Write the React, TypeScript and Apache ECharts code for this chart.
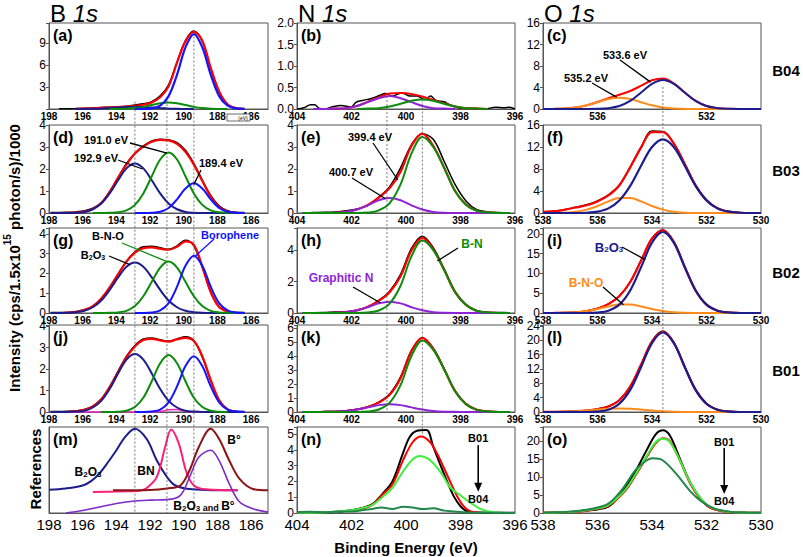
import React, { useEffect, useRef } from 'react';
import * as echarts from 'echarts';

const FONT = "'Liberation Sans', Arial, Helvetica, sans-serif";

// ---------- energy grids (eV) ----------
const XB = [197.9, 197.4, 196.9, 196.4, 195.9, 195.4, 194.9, 194.4, 193.9, 193.4, 192.9, 192.4, 191.9, 191.4, 190.9, 190.4, 189.9, 189.4, 188.9, 188.4, 187.9, 187.4, 186.9, 186.4];
const XN = [403.8, 403.4, 403.0, 402.6, 402.2, 401.8, 401.4, 401.0, 400.6, 400.2, 399.8, 399.4, 399.0, 398.6, 398.2, 397.8, 397.4, 397.0, 396.6, 396.2];
const XO = [538.0, 537.6, 537.2, 536.8, 536.4, 536.0, 535.6, 535.2, 534.8, 534.4, 534.0, 533.6, 533.2, 532.8, 532.4, 532.0, 531.6, 531.2, 530.8, 530.4, 530.0];

type V = number | null;
const _ = null;

// ---------- B 1s ----------
const aBlack: V[] = [_, 0.02, 0.03, 0.06, 0.1, 0.14, 0.2, 0.25, 0.3, 0.38, 0.55, 0.7, 1.0, 1.8, 3.3, 6.4, 9.3, 10.6, 9.2, 5.5, 2.3, 0.6, 0.1, 0.02];
const aRed: V[] = [_, _, _, 0.03, 0.06, 0.1, 0.15, 0.2, 0.26, 0.32, 0.42, 0.58, 0.9, 1.6, 3.1, 6.3, 9.2, 10.5, 9.3, 5.6, 2.4, 0.65, 0.12, 0.02];
const aNavy: V[] = [_, _, _, 0, 0.01, 0.02, 0.06, 0.12, 0.2, 0.27, 0.3, 0.27, 0.2, 0.12, 0.06, 0.02, 0.01, 0, _, _, _, _, _, _];
const aGreen: V[] = [_, _, _, _, _, _, _, 0, 0.01, 0.04, 0.12, 0.29, 0.55, 0.79, 0.9, 0.79, 0.55, 0.29, 0.12, 0.04, 0.01, 0, _, _];
const aBlue: V[] = [_, _, _, _, _, _, _, _, _, _, 0, 0.01, 0.08, 0.45, 1.75, 4.67, 8.39, 10.2, 8.39, 4.67, 1.75, 0.45, 0.08, 0.01];

const dBlack: V[] = [0.02, 0.02, 0.03, 0.05, 0.1, 0.22, 0.47, 0.98, 1.62, 2.25, 2.72, 3.05, 3.28, 3.35, 3.32, 3.2, 2.85, 2.25, 1.5, 0.8, 0.33, 0.1, 0.03, 0.02];
const dRed: V[] = [_, 0, 0.01, 0.02, 0.06, 0.18, 0.45, 0.95, 1.6, 2.2, 2.7, 3.02, 3.24, 3.32, 3.3, 3.14, 2.78, 2.2, 1.45, 0.75, 0.27, 0.07, 0.01, _];
const dNavy: V[] = [0, 0, 0, 0.01, 0.05, 0.17, 0.43, 0.89, 1.49, 2.03, 2.25, 2.03, 1.49, 0.89, 0.43, 0.17, 0.05, 0.01, 0, 0, 0, 0, 0, 0];
const dGreen: V[] = [_, _, _, _, _, 0, 0, 0.01, 0.03, 0.12, 0.37, 0.89, 1.67, 2.43, 2.75, 2.43, 1.67, 0.89, 0.37, 0.12, 0.03, 0.01, 0, _];
const dBlue: V[] = [_, _, _, _, _, _, _, _, _, _, 0, 0, 0.01, 0.06, 0.23, 0.62, 1.11, 1.35, 1.11, 0.62, 0.23, 0.06, 0.01, 0];

const gBlack: V[] = [0.03, 0.02, 0.03, 0.07, 0.17, 0.33, 0.75, 1.28, 1.98, 2.62, 3.1, 3.35, 3.38, 3.3, 3.22, 3.4, 3.68, 3.4, 2.3, 1.1, 0.32, 0.09, 0.03, 0.02];
const gRed: V[] = [_, 0, 0.02, 0.06, 0.15, 0.35, 0.72, 1.3, 1.95, 2.6, 3.05, 3.28, 3.32, 3.25, 3.2, 3.35, 3.62, 3.45, 2.35, 1.05, 0.3, 0.07, 0.01, _];
const gNavy: V[] = [0, 0, 0.01, 0.04, 0.11, 0.29, 0.63, 1.17, 1.8, 2.34, 2.55, 2.34, 1.8, 1.17, 0.63, 0.29, 0.11, 0.04, 0.01, 0, 0, 0, 0, 0];
const gGreen: V[] = [_, _, _, _, _, 0, 0, 0.01, 0.03, 0.11, 0.35, 0.85, 1.58, 2.3, 2.6, 2.3, 1.58, 0.85, 0.35, 0.11, 0.03, 0.01, 0, _];
const gBlue: V[] = [_, _, _, _, _, _, _, _, _, _, 0, 0, 0.02, 0.13, 0.5, 1.33, 2.39, 2.9, 2.39, 1.33, 0.5, 0.13, 0.02, 0];

const jBlack: V[] = [0.02, 0.02, 0.03, 0.05, 0.12, 0.27, 0.6, 1.18, 1.9, 2.6, 3.1, 3.4, 3.45, 3.36, 3.3, 3.4, 3.5, 3.32, 2.55, 1.45, 0.55, 0.13, 0.03, 0.02];
const jRed: V[] = [_, _, 0.01, 0.04, 0.1, 0.25, 0.58, 1.15, 1.85, 2.55, 3.05, 3.35, 3.4, 3.33, 3.28, 3.38, 3.45, 3.3, 2.6, 1.5, 0.55, 0.12, 0.02, _];
const jPink: V[] = [0, 0, 0, 0, 0, 0, 0, 0, 0, 0, 0, 0, 0, 0.02, 0.1, 0.12, 0.03, 0, 0, 0, 0, 0, 0, 0];
const jNavy: V[] = [0, 0, 0, 0.02, 0.06, 0.21, 0.52, 1.07, 1.79, 2.44, 2.7, 2.44, 1.79, 1.07, 0.52, 0.21, 0.06, 0.02, 0, 0, 0, 0, 0, 0];
const jGreen: V[] = [_, _, _, _, _, _, 0, 0, 0.01, 0.06, 0.23, 0.66, 1.43, 2.27, 2.65, 2.27, 1.43, 0.66, 0.23, 0.06, 0.01, 0, _, _];
const jBlue: V[] = [_, _, _, _, _, _, _, _, _, _, 0, 0, 0.02, 0.11, 0.45, 1.19, 2.14, 2.6, 2.14, 1.19, 0.45, 0.11, 0.02, 0];

// references (m), y in arbitrary units 0..10
const mNavy = [[198, 2.7], [197, 2.85], [196, 3.2], [195.5, 3.7], [195, 4.6], [194.5, 5.9], [194, 7.3], [193.5, 8.8], [192.9, 9.8], [192.2, 8.6], [191.6, 6.1], [191.0, 4.2], [190.5, 3.2], [189.5, 2.75], [188, 2.65], [186.8, 2.64]];
const mPink = [[195.4, 2.44], [194, 2.5], [192.6, 2.6], [192.2, 2.9], [191.6, 4.2], [191.1, 7.7], [190.75, 9.7], [190.3, 8.1], [189.85, 4.8], [189.4, 3.2], [188.7, 2.75], [186.8, 2.64]];
const mDarkRed = [[194.2, 2.64], [192, 2.68], [191, 2.85], [190.2, 3.2], [189.65, 5.0], [189.1, 7.7], [188.4, 9.8], [187.9, 8.6], [187.3, 6.1], [186.7, 4.0], [185.9, 2.8], [185, 2.64]];
const mPurple = [[197, 0], [196, 0.3], [195, 0.7], [194, 1.1], [192.9, 1.4], [192, 1.5], [191, 1.55], [190.2, 2.05], [189.65, 4.2], [189.1, 6.5], [188.4, 7.3], [187.9, 6.1], [187.3, 3.4], [186.7, 1.3], [185.9, 0.5], [185, 0.1]];

// ---------- N 1s ----------
const bBlack = [[404, 0], [403.75, 0.03], [403.5, 0.1], [403.35, 0.1], [403.2, 0.02], [403.0, 0.0], [402.7, 0.05], [402.4, 0.08], [402.0, 0.05], [401.85, 0.15], [401.6, 0.2], [401.3, 0.24], [400.95, 0.32], [400.76, 0.36], [400.5, 0.3], [400.15, 0.38], [399.85, 0.3], [399.6, 0.3], [399.3, 0.22], [399.1, 0.3], [398.9, 0.2], [398.6, 0.17], [398.4, 0.1], [398.0, 0.02], [397.65, 0.02], [397.16, 0.0], [396.7, 0.04], [396.4, 0.03], [396.2, 0.04], [396.0, 0.0]];
const bRed: V[] = [_, 0, 0, 0.01, 0.02, 0.07, 0.17, 0.27, 0.36, 0.37, 0.35, 0.29, 0.21, 0.13, 0.06, 0.02, 0.01, 0, _, _];
const bPurple: V[] = [_, 0, 0, 0.01, 0.02, 0.07, 0.16, 0.25, 0.3, 0.25, 0.16, 0.07, 0.02, 0.01, 0, _, _, _, _, _];
const bGreen: V[] = [_, _, _, _, _, 0, 0.01, 0.02, 0.06, 0.12, 0.19, 0.22, 0.19, 0.12, 0.06, 0.02, 0.01, 0, _, _];

const eBlack: V[] = [0.01, 0.02, 0.03, 0.05, 0.1, 0.18, 0.35, 0.72, 1.2, 2.05, 3.1, 3.6, 3.35, 2.35, 1.3, 0.55, 0.15, 0.05, 0.02, 0.01];
const eRed: V[] = [_, _, 0, 0.01, 0.05, 0.16, 0.37, 0.7, 1.13, 1.88, 3.05, 3.61, 3.05, 2.06, 1.0, 0.38, 0.1, 0.02, 0, _];
const ePurple: V[] = [0, 0, 0, 0.01, 0.05, 0.16, 0.35, 0.58, 0.68, 0.58, 0.35, 0.16, 0.05, 0.01, 0, 0, 0, 0, 0, 0];
const eGreen: V[] = [0, 0, 0, 0, 0, 0, 0.02, 0.12, 0.45, 1.3, 2.7, 3.45, 3.0, 2.05, 1.0, 0.38, 0.1, 0.02, 0, 0];

const hBlack: V[] = [0.02, 0.02, 0.03, 0.06, 0.08, 0.18, 0.38, 0.8, 1.38, 2.45, 4.1, 4.88, 4.15, 2.8, 1.38, 0.55, 0.15, 0.05, 0.03, 0.02];
const hRed: V[] = [_, _, 0, 0.01, 0.05, 0.17, 0.4, 0.77, 1.32, 2.34, 3.97, 4.77, 4.05, 2.74, 1.33, 0.51, 0.13, 0.03, 0, _];
const hPurple: V[] = [0, 0, 0, 0.01, 0.05, 0.17, 0.37, 0.61, 0.72, 0.61, 0.37, 0.17, 0.05, 0.01, 0, 0, 0, 0, 0, 0];
const hGreen: V[] = [0, 0, 0, 0, 0, 0, 0.03, 0.16, 0.6, 1.73, 3.6, 4.6, 4.0, 2.73, 1.33, 0.51, 0.13, 0.03, 0, 0];

const kBlack: V[] = [0.02, 0.02, 0.03, 0.04, 0.09, 0.2, 0.38, 0.7, 1.28, 2.5, 4.4, 5.3, 4.55, 3.1, 1.52, 0.6, 0.17, 0.05, 0.02, 0.02];
const kRed: V[] = [_, _, 0.01, 0.02, 0.07, 0.18, 0.36, 0.67, 1.22, 2.41, 4.32, 5.28, 4.5, 3.05, 1.49, 0.56, 0.15, 0.03, 0, _];
const kPurple: V[] = [0, 0, 0.01, 0.02, 0.07, 0.18, 0.33, 0.49, 0.55, 0.49, 0.33, 0.18, 0.07, 0.02, 0.01, 0, 0, 0, 0, 0];
const kGreen: V[] = [0, 0, 0, 0, 0, 0, 0.03, 0.18, 0.67, 1.92, 3.99, 5.1, 4.43, 3.03, 1.48, 0.56, 0.15, 0.03, 0, 0];

const nBlack = [[404, 0.03], [403.5, 0.05], [403, 0.03], [402.5, 0.08], [401.9, 0.2], [401.25, 0.54], [400.87, 1.2], [400.5, 2.0], [400.12, 3.75], [399.87, 4.8], [399.62, 5.2], [399.25, 5.26], [399.0, 4.2], [398.75, 3.1], [398.5, 2.04], [398.25, 1.07], [398.0, 0.43], [397.75, 0.1], [397.3, 0.03], [396.5, 0.02], [396, 0.01]];
const nRed = [[401.8, 0.22], [401.25, 0.5], [400.9, 1.1], [400.5, 1.8], [400.12, 3.3], [399.75, 4.5], [399.44, 4.85], [399.12, 4.5], [398.87, 3.8], [398.62, 2.9], [398.37, 1.95], [398.12, 1.05], [397.87, 0.4], [397.62, 0.1], [397.3, 0.02]];
const nLight = [[404, 0.02], [403, 0.03], [402.5, 0.1], [401.9, 0.2], [401.25, 0.5], [400.87, 1.0], [400.5, 1.6], [400.12, 2.6], [399.75, 3.4], [399.5, 3.62], [399.19, 3.45], [398.87, 2.9], [398.62, 2.3], [398.37, 1.6], [398.06, 1.2], [397.6, 0.6], [397.25, 0.25], [396.8, 0.05], [396.5, 0.02]];
const nDark = [[404, 0.05], [403.5, 0.08], [403, 0.04], [402.5, 0.1], [402, 0.1], [401.5, 0.2], [401.25, 0.25], [400.9, 0.35], [400.5, 0.25], [400.1, 0.4], [399.75, 0.35], [399.4, 0.25], [399, 0.3], [398.6, 0.15], [398.25, 0.1], [397.9, 0.05], [397.5, 0.02], [396.5, 0.01], [396, 0]];

// ---------- O 1s ----------
const cRed: V[] = [0, 0.02, 0.09, 0.28, 0.68, 1.3, 2.01, 2.66, 3.35, 4.33, 5.36, 5.68, 4.77, 3.08, 1.5, 0.56, 0.16, 0.03, 0, 0, 0];
const cOrange: V[] = [0, 0.02, 0.09, 0.28, 0.68, 1.27, 1.85, 2.1, 1.85, 1.27, 0.68, 0.28, 0.09, 0.02, 0, 0, 0, 0, 0, 0, 0];
const cNavy: V[] = [0, 0, 0, 0, 0, 0.03, 0.16, 0.56, 1.5, 3.06, 4.68, 5.4, 4.68, 3.06, 1.5, 0.56, 0.16, 0.03, 0, 0, 0];

const fBlack: V[] = [0.2, 0.35, 0.6, 1.05, 1.5, 2.2, 3.3, 5.1, 8.4, 12.0, 14.9, 14.8, 12.7, 9.0, 5.1, 2.4, 0.9, 0.3, 0.1, 0.05, 0.05];
const fRed: V[] = [0.2, 0.3, 0.6, 1.0, 1.4, 2.1, 3.2, 5.0, 8.3, 11.9, 14.7, 14.7, 12.6, 8.9, 5.0, 2.3, 0.85, 0.25, 0.05, 0, 0];
const fOrange: V[] = [0, 0.01, 0.06, 0.22, 0.61, 1.28, 2.11, 2.71, 2.71, 2.11, 1.28, 0.61, 0.22, 0.06, 0.01, 0, 0, 0, 0, 0, 0];
const fNavy: V[] = [0, 0, 0, 0, 0.05, 0.25, 0.84, 2.28, 4.94, 8.6, 11.99, 13.4, 11.99, 8.6, 4.94, 2.28, 0.84, 0.25, 0.05, 0, 0];

const iBlack: V[] = [0.05, 0.08, 0.1, 0.2, 0.5, 1.15, 2.3, 4.3, 7.9, 13.3, 18.9, 21.0, 18.1, 11.8, 5.8, 2.2, 0.65, 0.18, 0.06, 0.04, 0.04];
const iRed: V[] = [_, 0.01, 0.05, 0.17, 0.48, 1.13, 2.25, 4.24, 7.83, 13.26, 18.78, 20.9, 17.94, 11.65, 5.71, 2.11, 0.59, 0.12, 0.02, _, _];
const iOrange: V[] = [0, 0.01, 0.05, 0.17, 0.48, 1.01, 1.66, 2.13, 2.13, 1.66, 1.01, 0.48, 0.17, 0.05, 0.01, 0, 0, 0, 0, 0, 0];
const iNavy: V[] = [0, 0, 0, 0, 0, 0.12, 0.59, 2.11, 5.7, 11.6, 17.77, 20.5, 17.77, 11.6, 5.7, 2.11, 0.59, 0.12, 0, 0, 0];

const lBlack: V[] = [0.05, 0.06, 0.1, 0.22, 0.43, 0.85, 1.6, 3.35, 7.15, 13.3, 19.8, 22.6, 19.5, 12.7, 6.25, 2.35, 0.7, 0.18, 0.06, 0.04, 0.04];
const lRed: V[] = [0.01, 0.03, 0.09, 0.21, 0.41, 0.8, 1.55, 3.29, 7.08, 13.24, 19.66, 22.41, 19.34, 12.6, 6.18, 2.29, 0.64, 0.13, 0, _, _];
const lOrange: V[] = [0.01, 0.03, 0.09, 0.21, 0.41, 0.67, 0.91, 1.0, 0.91, 0.67, 0.41, 0.21, 0.09, 0.03, 0.01, 0, 0, 0, 0, 0, 0];
const lNavy: V[] = [0, 0, 0, 0, 0, 0.13, 0.64, 2.29, 6.17, 12.57, 19.25, 22.2, 19.25, 12.57, 6.17, 2.29, 0.64, 0.13, 0, 0, 0];

const oBlack = [[538, 0.1], [537.5, 0.15], [537, 0.3], [536.5, 0.6], [536, 1.0], [535.6, 1.8], [535.3, 3.8], [535.0, 6.8], [534.6, 11.7], [534.2, 17.4], [533.85, 22], [533.6, 23], [533.35, 21.6], [532.97, 15], [532.6, 8.5], [532.2, 3.8], [531.85, 1.4], [531.35, 0.5], [531, 0.2], [530.5, 0.1], [530, 0.05]];
const oRed = [[538, 0.05], [537, 0.25], [536.5, 0.5], [536.2, 0.9], [535.6, 2.0], [535.0, 6.0], [534.6, 10.5], [534.2, 15.5], [533.85, 19.5], [533.6, 20.8], [533.35, 20.0], [532.97, 14.5], [532.6, 8.2], [532.2, 3.7], [531.85, 1.4], [531.35, 0.4], [530.8, 0.1], [530, 0.05]];
const oLight = [[538, 0.1], [537, 0.3], [536.2, 1.0], [535.6, 2.2], [535.0, 6.3], [534.6, 10.8], [534.2, 15.8], [533.85, 19.8], [533.6, 20.6], [533.35, 19.8], [532.97, 14.6], [532.6, 8.5], [532.2, 4.0], [531.85, 1.6], [531.35, 0.5], [530.8, 0.15], [530, 0.05]];
const oDark = [[538, 0.1], [537.5, 0.2], [536.85, 0.5], [536.2, 1.2], [535.6, 2.6], [535.1, 6.5], [534.6, 12.0], [534.2, 14.6], [533.97, 15.2], [533.6, 14.6], [533.1, 10.8], [532.6, 6.1], [532.2, 3.3], [531.7, 1.2], [531.1, 0.3], [530.5, 0.1], [530, 0.05]];

// ---------- axes ----------
const Y_MAX = [11.7, 2, 16, 4, 4, 16, 4.3, 5.4, 21.5, 4.05, 6.2, 24.3, 10, 5.45, 23.9];
const Y_STEP = [3, 0.5, 4, 1, 1, 4, 1, 2, 5, 1, 1, 4, 5, 1, 5];
const PANEL_TAGS = ['(a)', '(b)', '(c)', '(d)', '(e)', '(f)', '(g)', '(h)', '(i)', '(j)', '(k)', '(l)', '(m)', '(n)', '(o)'];
const ROW_NAMES = ['B04', 'B03', 'B02', 'B01'];
const COL_TITLES = ['B', 'N', 'O'];

// layout (px)
const COL_LEFT = [49, 297, 543];
const COL_W = [219, 218, 218];
const ROW_TOP = [23, 125, 228, 325, 427];
const ROW_H = [86, 88, 85, 87, 86];

const C = {
  black: '#000000', red: '#ff0000', blue: '#1414ff', navy: '#1c1c8c', green: '#0b8c0b',
  purple: '#8e24d6', orange: '#ff8c1a', pink: '#ff1f75', darkred: '#8b1414', refPurple: '#7d2cc8',
  light: '#3cf03c', dark: '#23864a', magenta: '#ff22cc',
};

const zip = (xs: number[], ys: V[]) => xs.map((x, i) => [x, ys[i]]).filter((p) => p[1] !== null);

function line(idx: number, data: any[], color: string, width = 2) {
  return {
    type: 'line', xAxisIndex: idx, yAxisIndex: idx, data, smooth: 0.35,
    showSymbol: false, symbol: 'none', silent: true,
    lineStyle: { color, width }, itemStyle: { color },
  };
}

function buildOption() {
  const grid: any[] = [];
  const xAxis: any[] = [];
  const yAxis: any[] = [];
  for (let r = 0; r < 5; r++) {
    for (let c = 0; c < 3; c++) {
      const idx = r * 3 + c;
      grid.push({ left: COL_LEFT[c], top: ROW_TOP[r], width: COL_W[c], height: ROW_H[r], show: true, borderColor: '#555', borderWidth: 1, backgroundColor: 'transparent' });
      const bottom = r === 4;
      const xr = c === 0 ? { min: 185, max: 198, interval: 1 } : c === 1 ? { min: 396, max: 404, interval: 2 } : { min: 530, max: 538, interval: 2 };
      let fmt: any;
      if (c === 0) fmt = (v: number) => { const k = Math.round(v); return Math.abs(v - k) < 1e-6 && k % 2 === 0 ? String(k) : ''; };
      else if (idx === 2) fmt = (v: number) => (v === 536 || v === 532 ? String(v) : '');
      else fmt = (v: number) => String(Math.round(v));
      xAxis.push({
        type: 'value', gridIndex: idx, inverse: true, ...xr,
        axisLine: { show: true, lineStyle: { color: '#555', width: 1 } },
        axisTick: { show: false }, splitLine: { show: false },
        axisLabel: {
          formatter: fmt, color: '#000', fontFamily: FONT, margin: bottom ? 4 : 2,
          fontSize: bottom ? 15 : 10, fontWeight: bottom ? 'normal' : 'bold',
          showMinLabel: true, showMaxLabel: true,
        },
      });
      const step = Y_STEP[idx];
      const yfmt = (v: number) => {
        const q = v / step;
        if (Math.abs(q - Math.round(q)) > 1e-6) return '';
        if (idx === 0 && v === 0) return '';
        if (idx === 1) return v.toFixed(1);
        return String(Math.round(v * 100) / 100);
      };
      yAxis.push({
        type: 'value', gridIndex: idx, min: 0, max: Y_MAX[idx], interval: step,
        axisLine: { show: true, lineStyle: { color: '#555', width: 1 } },
        axisTick: { show: idx !== 12, length: 3, lineStyle: { color: '#555' } },
        splitLine: { show: false },
        axisLabel: { show: idx !== 12, formatter: yfmt, color: '#000', fontFamily: FONT, fontSize: 12, margin: 3 },
      });
    }
  }

  const series: any[] = [
    // (a)
    line(0, zip(XB, aBlack), C.black, 1.5), line(0, zip(XB, aRed), C.red, 2.2), line(0, zip(XB, aNavy), C.navy, 2),
    line(0, zip(XB, aGreen), C.green, 2), line(0, zip(XB, aBlue), C.blue, 2.2),
    // (b)
    line(1, bBlack, C.black, 1.5), line(1, zip(XN, bRed), C.red, 2), line(1, zip(XN, bPurple), C.purple, 2), line(1, zip(XN, bGreen), C.green, 2),
    // (c)
    line(2, zip(XO, cRed), C.red, 2), line(2, zip(XO, cOrange), C.orange, 2), line(2, zip(XO, cNavy), C.navy, 2),
    // (d)
    line(3, zip(XB, dBlack), C.black, 1.5), line(3, zip(XB, dRed), C.red, 2.2), line(3, zip(XB, dNavy), C.navy, 2),
    line(3, zip(XB, dGreen), C.green, 2), line(3, zip(XB, dBlue), C.blue, 2),
    // (e)
    line(4, zip(XN, eBlack), C.black, 1.5), line(4, zip(XN, eRed), C.red, 2.2), line(4, zip(XN, ePurple), C.purple, 2), line(4, zip(XN, eGreen), C.green, 2),
    // (f)
    line(5, zip(XO, fBlack), C.black, 1.5), line(5, zip(XO, fRed), C.red, 2.2), line(5, zip(XO, fOrange), C.orange, 2), line(5, zip(XO, fNavy), C.navy, 2.2),
    // (g)
    line(6, zip(XB, gBlack), C.black, 1.5), line(6, zip(XB, gRed), C.red, 2.2), line(6, zip(XB, gNavy), C.navy, 2),
    line(6, zip(XB, gGreen), C.green, 2), line(6, zip(XB, gBlue), C.blue, 2),
    // (h)
    line(7, zip(XN, hBlack), C.black, 1.5), line(7, zip(XN, hRed), C.red, 2.2), line(7, zip(XN, hPurple), C.purple, 2), line(7, zip(XN, hGreen), C.green, 2),
    // (i)
    line(8, zip(XO, iBlack), C.black, 1.5), line(8, zip(XO, iRed), C.red, 2.2), line(8, zip(XO, iOrange), C.orange, 2), line(8, zip(XO, iNavy), C.navy, 2.2),
    // (j)
    line(9, zip(XB, jBlack), C.black, 1.5), line(9, zip(XB, jRed), C.red, 2.2), line(9, zip(XB, jPink), C.magenta, 1.5),
    line(9, zip(XB, jNavy), C.navy, 2), line(9, zip(XB, jGreen), C.green, 2), line(9, zip(XB, jBlue), C.blue, 2),
    // (k)
    line(10, zip(XN, kBlack), C.black, 1.5), line(10, zip(XN, kRed), C.red, 2.2), line(10, zip(XN, kPurple), C.purple, 2), line(10, zip(XN, kGreen), C.green, 2),
    // (l)
    line(11, zip(XO, lBlack), C.black, 1.5), line(11, zip(XO, lRed), C.red, 2.2), line(11, zip(XO, lOrange), C.orange, 2), line(11, zip(XO, lNavy), C.navy, 2.2),
    // (m)
    line(12, mNavy, C.navy, 2), line(12, mPink, C.pink, 2), line(12, mDarkRed, C.darkred, 2), line(12, mPurple, C.refPurple, 1.6),
    // (n)
    line(13, nBlack, C.black, 2), line(13, nRed, C.red, 2), line(13, nLight, C.light, 2), line(13, nDark, C.dark, 2),
    // (o)
    line(14, oBlack, C.black, 2), line(14, oRed, C.red, 2), line(14, oLight, C.light, 2), line(14, oDark, C.dark, 2),
  ];

  return {
    animation: false,
    backgroundColor: '#ffffff',
    textStyle: { fontFamily: FONT },
    grid, xAxis, yAxis, series,
  };
}

function txt(x: number, y: number, text: string, size: number, color = '#000', bold = true, extra: any = {}) {
  return {
    type: 'text', x, y, silent: true, z: 20,
    style: {
      text, fill: color, fontSize: size, fontWeight: bold ? 'bold' : 'normal', fontFamily: FONT,
      align: 'center', verticalAlign: 'middle', textAlign: 'center', textVerticalAlign: 'middle', ...extra,
    },
  };
}

function sub(size: number, color: string) {
  return {
    n: { fontSize: size, fontWeight: 'bold', fontFamily: FONT, fill: color, color, lineHeight: size + 4, verticalAlign: 'bottom' },
    s: { fontSize: Math.round(size * 0.65), fontWeight: 'bold', fontFamily: FONT, fill: color, color, lineHeight: Math.round(size * 0.65), verticalAlign: 'bottom' },
    m: { fontSize: Math.round(size * 0.75), fontWeight: 'bold', fontFamily: FONT, fill: color, color, lineHeight: size + 4, verticalAlign: 'bottom' },
  };
}

function seg(a: number[], b: number[], color: string, width = 1, dash?: number[]) {
  return {
    type: 'line', silent: true, z: 15,
    shape: { x1: a[0], y1: a[1], x2: b[0], y2: b[1] },
    style: { stroke: color, lineWidth: width, lineDash: dash },
  };
}

function buildGraphic(chart: any) {
  const P = (g: number, x: number, y: number) => chart.convertToPixel({ gridIndex: g }, [x, y]);
  const el: any[] = [];

  // dotted guide lines
  const dot = [2, 2];
  const guides: [number, number, number, number, number][] = [
    [192.9, 0, 1.0, 12, 0], [191.0, 0, 1.2, 12, 0], [189.4, 0, 10.4, 12, 0],
    [400.7, 1, 0.3, 10, 0], [399.4, 1, 0.22, 13, 4.85],
    [533.6, 2, 4.1, 11, 0],
  ];
  guides.forEach(([x, g1, y1, g2, y2]) => el.push(seg(P(g1, x, y1), P(g2, x, y2), '#555', 0.8, dot)));

  // column titles
  COL_TITLES.forEach((t, c) => {
    el.push({
      type: 'text', x: COL_LEFT[c] + 1, y: 13, silent: true,
      style: {
        text: `{a|${t}} {b|1s}`, fill: '#000', fontSize: 24, fontFamily: FONT,
        align: 'left', verticalAlign: 'middle', textAlign: 'left', textVerticalAlign: 'middle',
        rich: { a: { fontSize: 24, fontFamily: FONT }, b: { fontSize: 24, fontStyle: 'italic', fontFamily: FONT } },
      },
    });
  });

  // row labels
  [70, 170, 272, 370].forEach((y, r) => el.push(txt(786, y, ROW_NAMES[r], 15, '#000', true)));

  // panel tags
  for (let r = 0; r < 5; r++) for (let c = 0; c < 3; c++) {
    el.push(txt(COL_LEFT[c] + 4, ROW_TOP[r] + 12, PANEL_TAGS[r * 3 + c], 16, '#000', true, { align: 'left', textAlign: 'left' }));
  }

  // axis titles
  el.push({
    type: 'text', x: 12, y: 258, rotation: Math.PI / 2, silent: true,
    style: {
      text: '{n|Intensity (cps/1.5x10}{p|15}{n| photon/s)/1000}', fill: '#000', fontFamily: FONT,
      align: 'center', verticalAlign: 'middle', textAlign: 'center', textVerticalAlign: 'middle',
      rich: {
        n: { fontSize: 15, fontWeight: 'bold', fontFamily: FONT, lineHeight: 20, verticalAlign: 'bottom' },
        p: { fontSize: 10, fontWeight: 'bold', fontFamily: FONT, lineHeight: 12, verticalAlign: 'top' },
      },
    },
  });
  el.push({ ...txt(35, 469, 'References', 15, '#000', true), rotation: Math.PI / 2 });
  el.push(txt(406, 547, 'Binding Energy (eV)', 15, '#000', true));

  // annotations: [grid, text, color, textX, textY, lineStartX, lineStartY, dataX, dataY, lineColor, size]
  const notes: any[] = [
    [3, '191.0 eV', '#000', 106, 140, 130, 143, 191.0, 2.72, '#000', 11],
    [3, '192.9 eV', '#000', 96, 158, 118, 160, 192.45, 2.0, '#000', 11],
    [3, '189.4 eV', '#000', 221, 163, 201, 170, 189.4, 1.3, '#000', 11],
    [6, 'B-N-O', '#000', 108, 236, 122, 243, 191.0, 2.6, C.green, 11],
    [6, 'Borophene', C.blue, 230, 235, 214, 239, 189.35, 2.85, C.blue, 11],
    [4, '399.4 eV', '#000', 370, 137, 373, 143, 400.3, 1.5, '#000', 11],
    [4, '400.7 eV', '#000', 351, 172, 352, 178, 400.75, 0.65, '#000', 11],
    [7, 'B-N', C.green, 472, 244, 458, 248, 398.85, 3.3, '#000', 12],
    [7, 'Graphitic N', C.purple, 341, 278, 353, 287, 400.95, 0.65, '#000', 12],
    [8, 'B-N-O', C.orange, 586, 283, 603, 287, 535.05, 2.1, '#000', 12],
    [2, '533.6 eV', '#000', 625, 55, 620, 60, 534.05, 5.0, '#000', 11],
    [2, '535.2 eV', '#000', 586, 78, 592, 83, 535.3, 2.2, '#000', 11],
  ];
  notes.forEach(([g, t, col, tx, ty, sx, sy, dx, dy, lc, fs]) => {
    el.push(seg([sx, sy], P(g, dx, dy), lc, 1.3));
    el.push(txt(tx, ty, t, fs, col, true));
  });
  // subscripted labels
  const subLabel = (x: number, y: number, text: string, size: number, color: string) => ({
    type: 'text', x, y, silent: true, z: 20,
    style: { text, fill: color, fontFamily: FONT, fontSize: size, fontWeight: 'bold', align: 'center', verticalAlign: 'middle', textAlign: 'center', textVerticalAlign: 'middle', rich: sub(size, color) },
  });
  el.push(seg([109, 256], P(6, 193.2, 2.45), '#000', 1.3));
  el.push(subLabel(93, 253, '{n|B}{s|2}{n|O}{s|3}', 11, '#000'));
  el.push(seg([622, 247], P(8, 534.25, 13.5), '#000', 1.3));
  el.push(subLabel(609, 245, '{n|B}{s|2}{n|O}{s|3}', 13, C.navy));
  // references labels
  el.push(subLabel(88, 470, '{n|B}{s|2}{n|O}{s|3}', 12, '#000'));
  el.push(txt(146, 471, 'BN', 12, '#000', true));
  el.push(txt(234, 440, 'B°', 12, '#000', true));
  el.push(subLabel(204, 504, '{n|B}{s|2}{n|O}{s|3}{m| and }{n|B°}', 12, '#000'));

  // B01 -> B04 arrows in (n) and (o)
  const arrow = (g: number, x: number, yText1: number, yA: number, yB: number, yText2: number) => {
    const t1 = P(g, x, yText1), a = P(g, x, yA), b = P(g, x, yB), t2 = P(g, x, yText2);
    el.push(txt(t1[0], t1[1], 'B01', 11, '#000', true));
    el.push(seg(a, [b[0], b[1] - 6], '#000', 1.6));
    el.push({ type: 'polygon', silent: true, z: 15, shape: { points: [[b[0] - 4, b[1] - 9], [b[0] + 4, b[1] - 9], [b[0], b[1]]] }, style: { fill: '#000' } });
    el.push(txt(t2[0], t2[1], 'B04', 11, '#000', true));
  };
  arrow(13, 397.35, 4.75, 4.3, 1.35, 0.9);
  arrow(14, 531.35, 19.7, 18.1, 5.3, 3.3);

  // tiny legend box in (a)
  el.push({ type: 'rect', silent: true, z: 18, shape: { x: 227, y: 114, width: 23, height: 7 }, style: { fill: '#fff', stroke: '#444', lineWidth: 0.8 } });
  el.push(seg([229, 117.5], [236, 117.5], '#000', 1.4));
  el.push({ ...txt(243, 117.5, '(eV)', 5, '#000', false), z: 19 });

  return el;
}

export default function App() {
  const ref = useRef<HTMLDivElement>(null);
  useEffect(() => {
    if (!ref.current) return;
    const chart = echarts.init(ref.current, undefined, { renderer: 'svg' });
    chart.setOption(buildOption() as any);
    chart.setOption({ graphic: buildGraphic(chart) } as any);
    return () => chart.dispose();
  }, []);
  return <div ref={ref} style={{ position: 'absolute', left: 0, top: 0, width: 803, height: 557, background: '#fff' }} />;
}
